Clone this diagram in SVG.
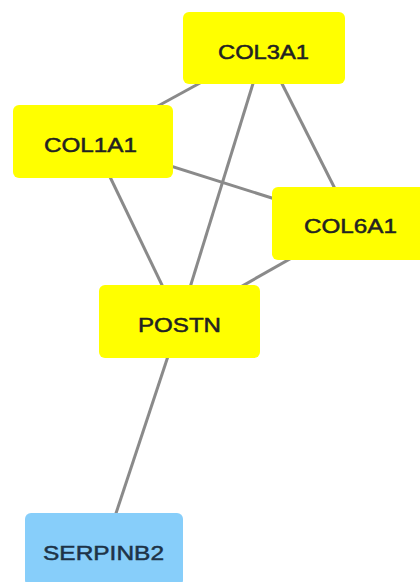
<svg xmlns="http://www.w3.org/2000/svg" width="420" height="582" viewBox="0 0 420 582">
<style>
.edge{stroke:#8a8a8a;stroke-width:3;fill:none}
.y{fill:#ffff00}
.b{fill:#87cefa}
.t{font-family:"Liberation Sans",Arial,sans-serif;font-size:21px;text-anchor:middle;fill:#222;stroke:#222;stroke-width:0.5}
.tb{fill:#1d3347;stroke:#1d3347}
</style>
<rect width="420" height="582" fill="#ffffff"/>
<g id="edges">
<line class="edge" x1="264" y1="48" x2="93" y2="141.5"/>
<line class="edge" x1="264" y1="48" x2="179.5" y2="321.5"/>
<line class="edge" x1="264" y1="48" x2="352.5" y2="223.5"/>
<line class="edge" x1="93" y1="141.5" x2="352.5" y2="223.5"/>
<line class="edge" x1="93" y1="141.5" x2="179.5" y2="321.5"/>
<line class="edge" x1="352.5" y1="223.5" x2="179.5" y2="321.5"/>
<line class="edge" x1="179.5" y1="321.5" x2="104" y2="549.5"/>
</g>
<g id="COL3A1"><rect class="y" x="183" y="12" width="162" height="72" rx="6"/><text class="t" x="263.5" y="58.5" textLength="91" lengthAdjust="spacingAndGlyphs">COL3A1</text></g>
<g id="COL1A1"><rect class="y" x="13" y="105" width="160" height="73" rx="6"/><text class="t" x="90.5" y="151.5" textLength="93" lengthAdjust="spacingAndGlyphs">COL1A1</text></g>
<g id="COL6A1"><rect class="y" x="272" y="187" width="161" height="73" rx="6"/><text class="t" x="350.5" y="232.5" textLength="93" lengthAdjust="spacingAndGlyphs">COL6A1</text></g>
<g id="POSTN"><rect class="y" x="99" y="285" width="161" height="73" rx="6"/><text class="t" x="179.5" y="331.5" textLength="83" lengthAdjust="spacingAndGlyphs">POSTN</text></g>
<g id="SERPINB2"><rect class="b" x="25" y="513" width="158" height="73" rx="6"/><text class="t tb" x="103.5" y="559.5" textLength="121" lengthAdjust="spacingAndGlyphs">SERPINB2</text></g>
</svg>
